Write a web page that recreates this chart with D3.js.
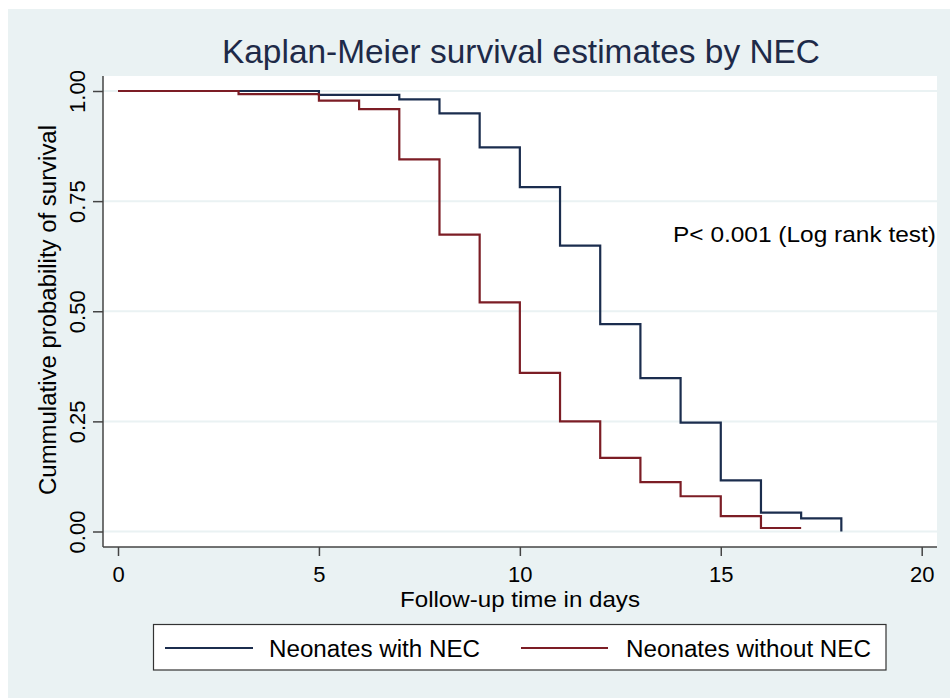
<!DOCTYPE html>
<html>
<head>
<meta charset="utf-8">
<script src="https://cdn.jsdelivr.net/npm/d3@7"></script>
<style>
  html, body { margin: 0; padding: 0; background: #ffffff; }
  svg { display: block; font-family: "Liberation Sans", Arial, sans-serif; }
</style>
</head>
<body>
<svg id="chart" width="950" height="698"></svg>
<script>
// ---- data ----
const timesWith    = [0, 5, 7, 8, 9, 10, 11, 12, 13, 14, 15, 16, 17, 18];
const survWith     = [1.000, 0.991, 0.981, 0.949, 0.872, 0.782, 0.649, 0.471, 0.348, 0.247, 0.116, 0.043, 0.030, 0.000];
const timesWithout = [0, 3, 5, 6, 7, 8, 9, 10, 11, 12, 13, 14, 15, 16, 17];
const survWithout  = [1.000, 0.993, 0.978, 0.959, 0.845, 0.674, 0.520, 0.360, 0.250, 0.167, 0.112, 0.080, 0.035, 0.008, 0.008];
const xTicks = [0, 5, 10, 15, 20];
const yTicks = [0, 0.25, 0.5, 0.75, 1];
const seriesNames = ["Neonates with NEC", "Neonates without NEC"];
const titleText = "Kaplan-Meier survival estimates by NEC";
const xTitle = "Follow-up time in days";
const yTitle = "Cummulative probability of survival";
const noteText = "P< 0.001 (Log rank test)";

const colWith = "#1b2d4e";
const colWithout = "#7c1d25";
const bg = "#eaf2f3";

const svg = d3.select("#chart");

// outer background
svg.append("rect").attr("x", 8).attr("y", 9).attr("width", 942).attr("height", 689).attr("fill", bg);

// plot region
const region = {left: 103, right: 937, top: 76, bottom: 547};
svg.append("rect")
  .attr("x", region.left).attr("y", region.top)
  .attr("width", region.right - region.left).attr("height", region.bottom - region.top)
  .attr("fill", "#ffffff");

const x = d3.scaleLinear().domain([0, 20]).range([118, 921.7]);
const y = d3.scaleLinear().domain([0, 1]).range([531.5, 91]);

// gridlines
svg.append("g").selectAll("line").data(yTicks).join("line")
  .attr("x1", region.left).attr("x2", region.right)
  .attr("y1", d => y(d)).attr("y2", d => y(d))
  .attr("stroke", bg).attr("stroke-width", 2);

// axes
const axisColor = "#444444";
const xAxis = svg.append("g").attr("transform", `translate(0,${region.bottom})`)
  .call(d3.axisBottom(x).tickValues(xTicks).tickSize(9).tickPadding(10).tickFormat(d3.format("d")));
xAxis.select(".domain").attr("d", `M${region.left},0H${region.right}`).attr("stroke", axisColor).attr("stroke-width", 1.5);
xAxis.selectAll(".tick line").attr("stroke", axisColor).attr("stroke-width", 1.5);
xAxis.selectAll(".tick text").attr("font-size", 22).attr("fill", "#000").attr("font-family", "Liberation Sans, Arial, sans-serif")
  .attr("dy", null).attr("y", 35);

const yAxis = svg.append("g").attr("transform", `translate(${region.left},0)`)
  .call(d3.axisLeft(y).tickValues(yTicks).tickSize(10).tickFormat(d3.format(".2f")));
yAxis.select(".domain").attr("d", `M0,${region.top}V${region.bottom}`).attr("stroke", axisColor).attr("stroke-width", 1.5);
yAxis.selectAll(".tick line").attr("stroke", axisColor).attr("stroke-width", 1.5);
yAxis.selectAll(".tick text")
  .attr("font-size", 22).attr("fill", "#000").attr("font-family", "Liberation Sans, Arial, sans-serif")
  .attr("x", null).attr("dy", null)
  .attr("text-anchor", "middle")
  .attr("transform", "translate(-18,0) rotate(-90)");

// curves
const line = d3.line().x(d => x(d[0])).y(d => y(d[1])).curve(d3.curveStepAfter);
const dWith = timesWith.map((t, i) => [t, survWith[i]]);
const dWithout = timesWithout.map((t, i) => [t, survWithout[i]]);
svg.append("path").datum(dWith).attr("d", line).attr("fill", "none").attr("stroke", colWith).attr("stroke-width", 2.2);
svg.append("path").datum(dWithout).attr("d", line).attr("fill", "none").attr("stroke", colWithout).attr("stroke-width", 2.2);

// title
svg.append("text").attr("x", 521).attr("y", 63).attr("text-anchor", "middle")
  .attr("font-size", 33).attr("fill", "#1e2a48").attr("textLength", 598).attr("lengthAdjust", "spacingAndGlyphs")
  .text(titleText);

// axis titles
svg.append("text").attr("x", 520).attr("y", 607).attr("text-anchor", "middle")
  .attr("font-size", 22).attr("fill", "#000").attr("textLength", 240).attr("lengthAdjust", "spacingAndGlyphs")
  .text(xTitle);
svg.append("text").attr("transform", "translate(56,310) rotate(-90)").attr("text-anchor", "middle")
  .attr("font-size", 23).attr("fill", "#000").attr("textLength", 370).attr("lengthAdjust", "spacingAndGlyphs")
  .text(yTitle);

// note
svg.append("text").attr("x", 673).attr("y", 242).attr("font-size", 22).attr("fill", "#000")
  .attr("textLength", 263).attr("lengthAdjust", "spacingAndGlyphs")
  .text(noteText);

// legend
svg.append("rect").attr("x", 153.5).attr("y", 624.5).attr("width", 732.5).attr("height", 45.5)
  .attr("fill", "#ffffff").attr("stroke", "#333333").attr("stroke-width", 1.2);
const legendItems = [
  {name: seriesNames[0], color: colWith, x1: 165, x2: 253, tx: 269, tl: 211},
  {name: seriesNames[1], color: colWithout, x1: 521, x2: 608, tx: 626, tl: 245}
];
const lg = svg.append("g");
lg.selectAll("line").data(legendItems).join("line")
  .attr("x1", d => d.x1).attr("x2", d => d.x2).attr("y1", 648).attr("y2", 648)
  .attr("stroke", d => d.color).attr("stroke-width", 2.2);
lg.selectAll("text").data(legendItems).join("text")
  .attr("x", d => d.tx).attr("y", 657).attr("font-size", 23).attr("fill", "#000")
  .attr("textLength", d => d.tl).attr("lengthAdjust", "spacingAndGlyphs")
  .text(d => d.name);
</script>
</body>
</html>
